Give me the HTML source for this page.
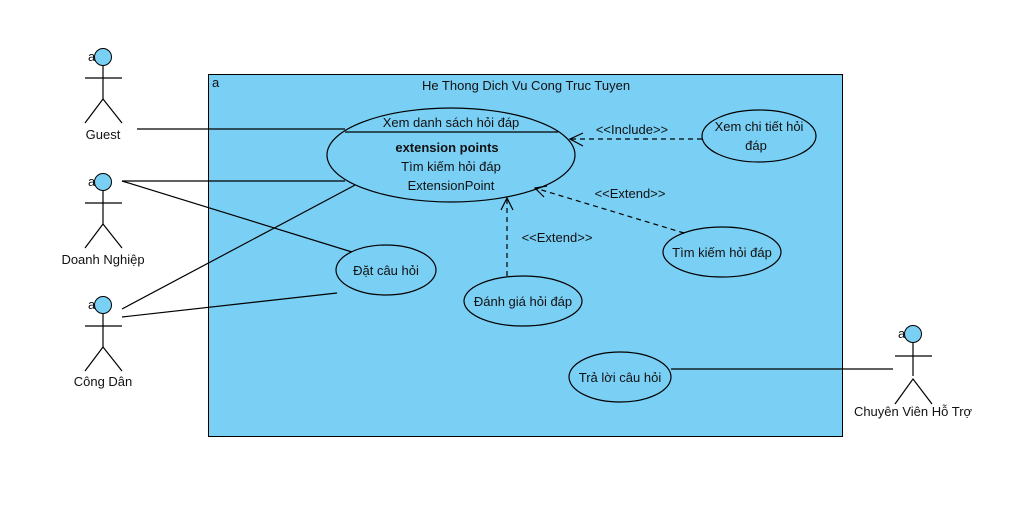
<!DOCTYPE html>
<html><head><meta charset="utf-8"><style>body{margin:0;background:#fff}svg{display:block}text{font-family:"Liberation Sans",sans-serif;font-size:13px;fill:#111}</style></head><body>
<svg width="1014" height="513" viewBox="0 0 1014 513" xmlns="http://www.w3.org/2000/svg">
<rect x="208.5" y="74.5" width="634" height="362" fill="#7acff5" stroke="#000"/>
<text x="212" y="87" font-size="11">a</text>
<text x="526" y="90" text-anchor="middle">He Thong Dich Vu Cong Truc Tuyen</text>
<g stroke="#000" fill="none" stroke-width="1.2">
<line x1="137" y1="129" x2="345" y2="129"/>
<line x1="122" y1="181" x2="345" y2="181"/>
<line x1="122" y1="181" x2="352" y2="252"/>
<line x1="122" y1="309" x2="357" y2="184"/>
<line x1="122" y1="317" x2="337" y2="293"/>
<line x1="671" y1="369" x2="893" y2="369"/>
</g>
<g fill="#7acff5" stroke="#000" stroke-width="1.2">
<ellipse cx="451" cy="155" rx="124" ry="47"/>
<ellipse cx="759" cy="136" rx="57" ry="26"/>
<ellipse cx="722" cy="252" rx="59" ry="25"/>
<ellipse cx="386" cy="270" rx="50" ry="25"/>
<ellipse cx="523" cy="301" rx="59" ry="25"/>
<ellipse cx="620" cy="377" rx="51" ry="25"/>
</g>
<line x1="345" y1="132" x2="558" y2="132" stroke="#000" stroke-width="1.2"/>
<g stroke="#000" fill="none" stroke-width="1.2">
<line x1="702" y1="139" x2="570" y2="139" stroke-dasharray="5,4"/>
<polyline points="583,133 570,139 583,146"/>
<line x1="684" y1="233" x2="535" y2="188" stroke-dasharray="5,4"/>
<polyline points="547,186 535,188 544,197"/>
<line x1="507" y1="276" x2="507" y2="198" stroke-dasharray="5,4"/>
<polyline points="501,210 507,198 513,210"/>
</g>
<text x="451" y="127" text-anchor="middle">Xem danh sách hỏi đáp</text>
<text x="447" y="152" text-anchor="middle" font-weight="bold">extension points</text>
<text x="451" y="171" text-anchor="middle">Tìm kiếm hỏi đáp</text>
<text x="451" y="190" text-anchor="middle">ExtensionPoint</text>
<text x="632" y="134" text-anchor="middle" font-size="12">&lt;&lt;Include&gt;&gt;</text>
<text x="630" y="198" text-anchor="middle" font-size="12">&lt;&lt;Extend&gt;&gt;</text>
<text x="557" y="242" text-anchor="middle" font-size="12">&lt;&lt;Extend&gt;&gt;</text>
<text x="759" y="131" text-anchor="middle">Xem chi tiết hỏi</text>
<text x="756" y="150" text-anchor="middle">đáp</text>
<text x="722" y="257" text-anchor="middle">Tìm kiếm hỏi đáp</text>
<text x="386" y="275" text-anchor="middle">Đặt câu hỏi</text>
<text x="523" y="306" text-anchor="middle">Đánh giá hỏi đáp</text>
<text x="620" y="382" text-anchor="middle">Trả lời câu hỏi</text>
<g stroke="#000" stroke-width="1.2" fill="none">
<g transform="translate(103,57)"><line x1="0" y1="8" x2="0" y2="42"/><line x1="-18" y1="21" x2="19" y2="21"/><polyline points="-18,66 0,42 19,66"/></g>
<g transform="translate(103,182)"><line x1="0" y1="8" x2="0" y2="42"/><line x1="-18" y1="21" x2="19" y2="21"/><polyline points="-18,66 0,42 19,66"/></g>
<g transform="translate(103,305)"><line x1="0" y1="8" x2="0" y2="42"/><line x1="-18" y1="21" x2="19" y2="21"/><polyline points="-18,66 0,42 19,66"/></g>
<g transform="translate(913,334)"><line x1="0" y1="8" x2="0" y2="42"/><line x1="-18" y1="22" x2="19" y2="22"/><polyline points="-18,70 0,45 19,70"/></g>
</g>
<g fill="#7acff5" stroke="#000">
<circle cx="103" cy="57" r="8.5"/><circle cx="103" cy="182" r="8.5"/><circle cx="103" cy="305" r="8.5"/><circle cx="913" cy="334" r="8.5"/>
</g>
<g font-size="13"><text x="88" y="61">a</text><text x="88" y="186">a</text><text x="88" y="309">a</text><text x="898" y="338">a</text></g>
<text x="103" y="139" text-anchor="middle">Guest</text>
<text x="103" y="264" text-anchor="middle">Doanh Nghiệp</text>
<text x="103" y="386" text-anchor="middle">Công Dân</text>
<text x="913" y="416" text-anchor="middle">Chuyên Viên Hỗ Trợ</text>
</svg>
</body></html>
